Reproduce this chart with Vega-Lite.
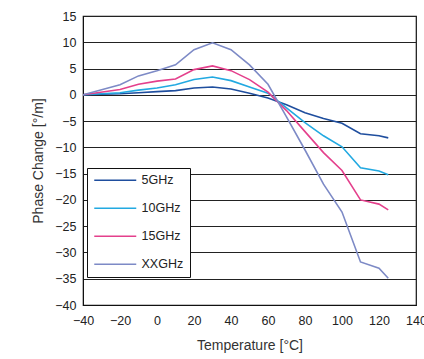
{
  "$schema": "https://vega.github.io/schema/vega-lite/v6.json",
  "width": 333,
  "height": 289,
  "autosize": {"type": "none"},
  "padding": {"left": 83, "top": 16, "right": 8, "bottom": 54},
  "background": "white",
  "config": {
    "font": "Liberation Sans",
    "view": {"stroke": "#111", "strokeWidth": 1.2},
    "axis": {"labelFont": "Liberation Sans", "titleFont": "Liberation Sans", "labelColor": "#222", "titleColor": "#333", "labelFontSize": 12.5, "titleFontSize": 14, "titleFontWeight": "normal", "domainColor": "#111", "tickColor": "#111"}
  },
  "data": {
    "values": [
      {"f": "5GHz", "t": -40, "v": 0}, {"f": "5GHz", "t": -20, "v": 0.2}, {"f": "5GHz", "t": -10, "v": 0.4}, {"f": "5GHz", "t": 0, "v": 0.6}, {"f": "5GHz", "t": 10, "v": 0.8}, {"f": "5GHz", "t": 20, "v": 1.3}, {"f": "5GHz", "t": 30, "v": 1.5}, {"f": "5GHz", "t": 40, "v": 1.1}, {"f": "5GHz", "t": 50, "v": 0.3}, {"f": "5GHz", "t": 60, "v": -0.6}, {"f": "5GHz", "t": 70, "v": -1.9}, {"f": "5GHz", "t": 80, "v": -3.4}, {"f": "5GHz", "t": 90, "v": -4.5}, {"f": "5GHz", "t": 100, "v": -5.4}, {"f": "5GHz", "t": 110, "v": -7.4}, {"f": "5GHz", "t": 120, "v": -7.8}, {"f": "5GHz", "t": 125, "v": -8.2},
      {"f": "10GHz", "t": -40, "v": 0}, {"f": "10GHz", "t": -20, "v": 0.4}, {"f": "10GHz", "t": -10, "v": 0.9}, {"f": "10GHz", "t": 0, "v": 1.3}, {"f": "10GHz", "t": 10, "v": 1.9}, {"f": "10GHz", "t": 20, "v": 2.9}, {"f": "10GHz", "t": 30, "v": 3.4}, {"f": "10GHz", "t": 40, "v": 2.7}, {"f": "10GHz", "t": 50, "v": 1.5}, {"f": "10GHz", "t": 60, "v": 0.3}, {"f": "10GHz", "t": 70, "v": -2.5}, {"f": "10GHz", "t": 80, "v": -5.3}, {"f": "10GHz", "t": 90, "v": -7.8}, {"f": "10GHz", "t": 100, "v": -9.9}, {"f": "10GHz", "t": 110, "v": -13.9}, {"f": "10GHz", "t": 120, "v": -14.5}, {"f": "10GHz", "t": 125, "v": -15.2},
      {"f": "15GHz", "t": -40, "v": 0}, {"f": "15GHz", "t": -20, "v": 1.0}, {"f": "15GHz", "t": -10, "v": 2.0}, {"f": "15GHz", "t": 0, "v": 2.6}, {"f": "15GHz", "t": 10, "v": 3.0}, {"f": "15GHz", "t": 20, "v": 4.8}, {"f": "15GHz", "t": 30, "v": 5.5}, {"f": "15GHz", "t": 40, "v": 4.6}, {"f": "15GHz", "t": 50, "v": 2.9}, {"f": "15GHz", "t": 60, "v": 0.5}, {"f": "15GHz", "t": 70, "v": -3.0}, {"f": "15GHz", "t": 80, "v": -7.0}, {"f": "15GHz", "t": 90, "v": -11.0}, {"f": "15GHz", "t": 100, "v": -14.4}, {"f": "15GHz", "t": 110, "v": -20.0}, {"f": "15GHz", "t": 120, "v": -20.8}, {"f": "15GHz", "t": 125, "v": -21.9},
      {"f": "XXGHz", "t": -40, "v": 0}, {"f": "XXGHz", "t": -20, "v": 1.9}, {"f": "XXGHz", "t": -10, "v": 3.6}, {"f": "XXGHz", "t": 0, "v": 4.6}, {"f": "XXGHz", "t": 10, "v": 5.7}, {"f": "XXGHz", "t": 20, "v": 8.6}, {"f": "XXGHz", "t": 30, "v": 9.9}, {"f": "XXGHz", "t": 40, "v": 8.6}, {"f": "XXGHz", "t": 50, "v": 5.7}, {"f": "XXGHz", "t": 60, "v": 2.0}, {"f": "XXGHz", "t": 70, "v": -4.2}, {"f": "XXGHz", "t": 80, "v": -10.5}, {"f": "XXGHz", "t": 90, "v": -17.0}, {"f": "XXGHz", "t": 100, "v": -22.3}, {"f": "XXGHz", "t": 110, "v": -31.8}, {"f": "XXGHz", "t": 120, "v": -33.0}, {"f": "XXGHz", "t": 125, "v": -34.9}
    ]
  },
  "mark": {"type": "line", "strokeWidth": 1.6, "clip": true},
  "encoding": {
    "x": {"field": "t", "type": "quantitative", "title": "Temperature [°C]",
      "scale": {"domain": [-40, 140], "nice": false, "zero": false},
      "axis": {"values": [-40, -20, 0, 20, 40, 60, 80, 100, 120, 140], "grid": false, "ticks": false, "labelPadding": 9, "titleY": 33, "labelFlush": false}},
    "y": {"field": "v", "type": "quantitative", "title": "Phase Change [°/m]",
      "scale": {"domain": [-40, 15], "nice": false, "zero": false},
      "axis": {"values": [-40, -35, -30, -25, -20, -15, -10, -5, 0, 5, 10, 15], "grid": true, "gridColor": "#222", "gridWidth": 1, "ticks": false, "labelPadding": 7, "titleX": -38}},
    "color": {"field": "f", "type": "nominal", "title": null, "sort": ["5GHz", "10GHz", "15GHz", "XXGHz"],
      "scale": {"domain": ["5GHz", "10GHz", "15GHz", "XXGHz"], "range": ["#1f4e9e", "#22a9e1", "#e4408c", "#7d8ac6"]},
      "legend": {"orient": "none", "legendX": 4, "legendY": 152, "symbolType": "M-1,0H7.4", "symbolSize": 100, "symbolStrokeWidth": 1.6, "labelFontSize": 12.5, "labelColor": "#222", "labelFont": "Liberation Sans", "strokeColor": "#111", "fillColor": "white", "padding": 6, "rowPadding": 15, "labelOffset": 36}}
  }
}
